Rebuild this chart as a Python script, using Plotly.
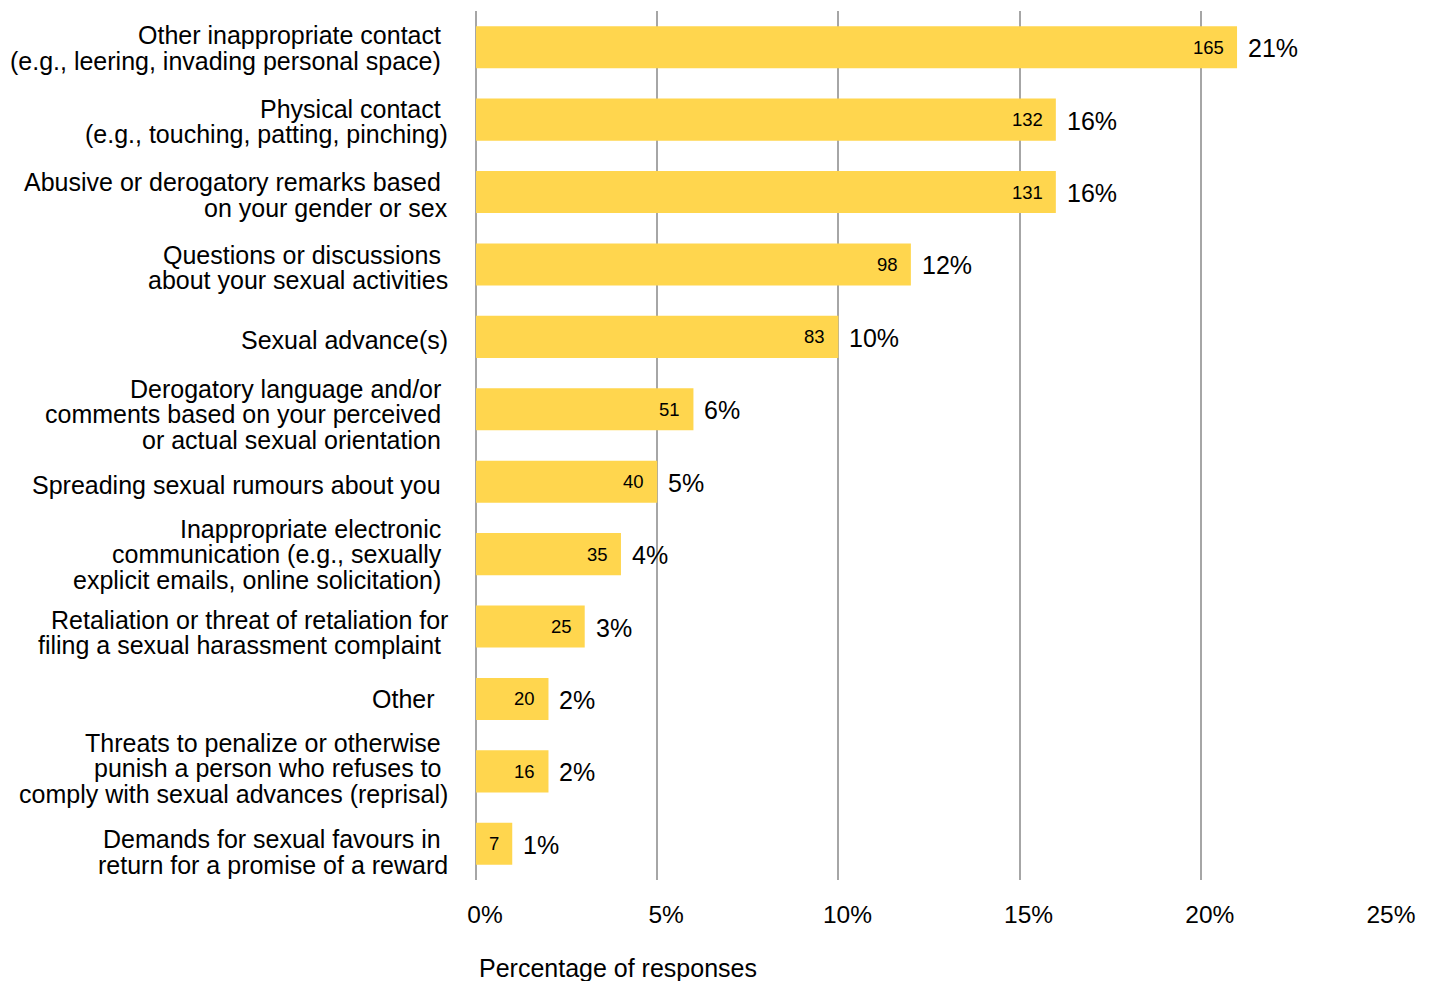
import plotly.graph_objects as go

# Survey categories (top to bottom); trailing spaces are part of the label text
categories = [
    "Other inappropriate contact <br>(e.g., leering, invading personal space) ",
    "Physical contact <br>(e.g., touching, patting, pinching)",
    "Abusive or derogatory remarks based <br>on your gender or sex",
    "Questions or discussions <br>about your sexual activities",
    "Sexual advance(s)",
    "Derogatory language and/or <br>comments based on your perceived <br>or actual sexual orientation ",
    "Spreading sexual rumours about you ",
    "Inappropriate electronic <br>communication (e.g., sexually <br>explicit emails, online solicitation) ",
    "Retaliation or threat of retaliation for<br>filing a sexual harassment complaint ",
    "Other  ",
    "Threats to penalize or otherwise <br>punish a person who refuses to <br>comply with sexual advances (reprisal)",
    "Demands for sexual favours in <br>return for a promise of a reward",
]
counts = [165, 132, 131, 98, 83, 51, 40, 35, 25, 20, 16, 7]
percents = [21, 16, 16, 12, 10, 6, 5, 4, 3, 2, 2, 1]
x_ticks = [0, 5, 10, 15, 20, 25]
x_title = "Percentage of responses"

FONT = "Liberation Sans, Arial, Helvetica, sans-serif"
BAR_COLOR = "#FFD64E"
GRID_COLOR = "#A6A6A6"
BIG = 25
SMALL = 18.5
LINE_STEP = 25.5
# small vertical nudges (px, downward) of each category label block
label_nudge = [1, 2, 3, 3, 3, 5, 3, 0, 6, 0, -3, 8]

fig = go.Figure(
    go.Bar(
        x=percents,
        y=categories,
        orientation="h",
        marker=dict(color=BAR_COLOR, line=dict(width=0)),
        hoverinfo="skip",
    )
)

annotations = []
for cat, n, p, nudge in zip(categories, counts, percents, label_nudge):
    lines = cat.split("<br>")
    k = len(lines)
    for i, line in enumerate(lines):
        stripped = line.rstrip(" ")
        trailing = len(line) - len(stripped)
        text = stripped + "\u00a0" * trailing
        annotations.append(dict(
            x=0, xref="paper", y=cat, yref="y",
            text=text, showarrow=False,
            xanchor="right", yanchor="middle", borderpad=0,
            xshift=-27, yshift=((k - 1) / 2 - i) * LINE_STEP - nudge,
            font=dict(family=FONT, size=BIG, color="black"),
        ))
    # count inside the bar end
    annotations.append(dict(
        x=p, xref="x", y=cat, yref="y", text=str(n), showarrow=False,
        xanchor="right", yanchor="middle", xshift=-11,
        font=dict(family=FONT, size=SMALL, color="black"),
    ))
    # percentage just past the bar end
    annotations.append(dict(
        x=p, xref="x", y=cat, yref="y", text=f"{p}%", showarrow=False,
        xanchor="left", yanchor="middle", xshift=9, yshift=-1,
        font=dict(family=FONT, size=BIG, color="black"),
    ))

annotations.append(dict(
    x=0, xref="paper", y=0, yref="paper", text=x_title, showarrow=False,
    xanchor="left", yanchor="middle", xshift=1, yshift=-88,
    font=dict(family=FONT, size=BIG, color="black"),
))

fig.update_layout(
    width=1431, height=981,
    margin=dict(l=476, r=49, t=11, b=101),
    paper_bgcolor="white", plot_bgcolor="white",
    bargap=0.42,
    showlegend=False,
    annotations=annotations,
    font=dict(family=FONT, size=BIG, color="black"),
    xaxis=dict(
        range=[0, 25],
        tickvals=x_ticks,
        ticktext=[f"{t}%" for t in x_ticks],
        showgrid=True, gridcolor=GRID_COLOR, gridwidth=2,
        zeroline=True, zerolinecolor=GRID_COLOR, zerolinewidth=2,
        showline=False, ticks="",
        ticklabelstandoff=17, ticklabelshift=9,
        tickfont=dict(family=FONT, size=BIG - 0.5, color="black"),
        fixedrange=True,
    ),
    yaxis=dict(
        categoryorder="array", categoryarray=categories,
        autorange="reversed",
        showticklabels=False, showgrid=False, zeroline=False, ticks="",
        fixedrange=True,
    ),
)

fig.write_html("out.html")
